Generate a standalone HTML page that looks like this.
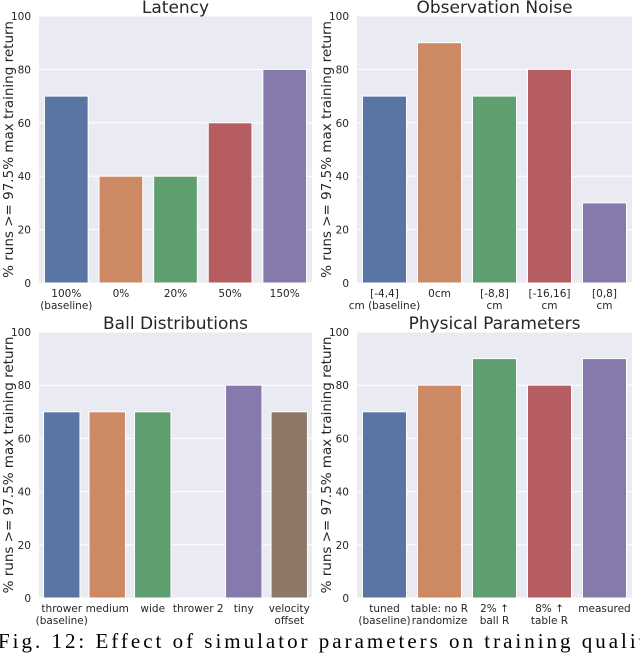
<!DOCTYPE html>
<html><head><meta charset="utf-8"><style>
body{margin:0;background:#fff;width:640px;height:653px;overflow:hidden}
svg{display:block}
text{font-family:"DejaVu Sans","Liberation Sans",sans-serif;fill:#262626}
</style></head><body>
<svg id="c" width="640" height="653" viewBox="0 0 640 653" xmlns="http://www.w3.org/2000/svg">
<text x="-2" y="648" style="font-family:'Liberation Serif',serif;font-size:21px;fill:#000" textLength="660" lengthAdjust="spacing">Fig. 12: Effect of simulator parameters on training quality</text>
</svg>
<script>
const yTicks=[0,20,40,60,80,100];
const latencyCats=[["100%","(baseline)"],["0%"],["20%"],["50%"],["150%"]];
const latencyVals=[70,40,40,60,80];
const noiseCats=[["[-4,4]","cm (baseline)"],["0cm"],["[-8,8]","cm"],["[-16,16]","cm"],["[0,8]","cm"]];
const noiseVals=[70,90,70,80,30];
const ballCats=[["thrower","(baseline)"],["medium"],["wide"],["thrower 2"],["tiny"],["velocity","offset"]];
const ballVals=[70,70,70,0,80,70];
const physCats=[["tuned","(baseline)"],["table: no R","randomize"],["2% \u2191","ball R"],["8% \u2191","table R"],["measured"]];
const physVals=[70,80,90,80,90];
const colors=["#5975a4","#cc8963","#5f9e6e","#b55d60","#857aab","#8d7866"];
const NS="http://www.w3.org/2000/svg";
const svg=document.getElementById('c');
function mk(t,a,p){const e=document.createElementNS(NS,t);for(const k in a)e.setAttribute(k,a[k]);(p||svg).appendChild(e);return e;}
function panel(name,title,cats,vals,x0,x1,yTop,yBot){
  const g=mk('g',{});
  
  
  const bg=mk('rect',{x:x0,y:yTop,width:x1-x0,height:yBot-yTop,fill:'#eaeaf2'},g);
  
  
  const ys=v=>yBot-(v/100)*(yBot-yTop);
  yTicks.forEach(t=>{
    const l=mk('line',{x1:x0,x2:x1,y1:ys(t),y2:ys(t),stroke:'#fff','stroke-width':1},g);
    
    
    const tx=mk('text',{x:x0-8,y:ys(t)+4,'text-anchor':'end','font-size':'10.5'},g);
    tx.textContent=t;
    
    
  });
  const slot=(x1-x0)/cats.length;
  cats.forEach((c,i)=>{
    const cx=x0+slot*(i+0.5),w=slot*0.8;
    if(vals[i]>0){
      const r=mk('rect',{x:cx-w/2,y:ys(vals[i]),width:w,height:yBot-ys(vals[i]),fill:colors[i],stroke:'#fff','stroke-width':1},g);
      
      
    }
    c.forEach((s,j)=>{
      const tx=mk('text',{x:cx,y:yBot+14+j*12,'text-anchor':'middle','font-size':'10.5'},g);
      tx.textContent=s;
      
      
    });
  });
  const tt=mk('text',{x:(x0+x1)/2,y:yTop-3,'text-anchor':'middle','font-size':'17'},g);
  tt.textContent=title;
  
  
  const ym=(yTop+yBot)/2,lx=x0-26;
  const yl=mk('text',{x:lx,y:ym,'text-anchor':'middle','font-size':'13.5',transform:`rotate(-90 ${lx} ${ym})`},g);
  yl.textContent='% runs >= 97.5% max training return';
  
  
}
panel('latency','Latency',latencyCats,latencyVals,39,312,16,283);
panel('observation-noise','Observation Noise',noiseCats,noiseVals,357,632,16,283);
panel('ball-distributions','Ball Distributions',ballCats,ballVals,39,312,332,598);
panel('physical-parameters','Physical Parameters',physCats,physVals,357,632,332,598);
</script>
</body></html>
